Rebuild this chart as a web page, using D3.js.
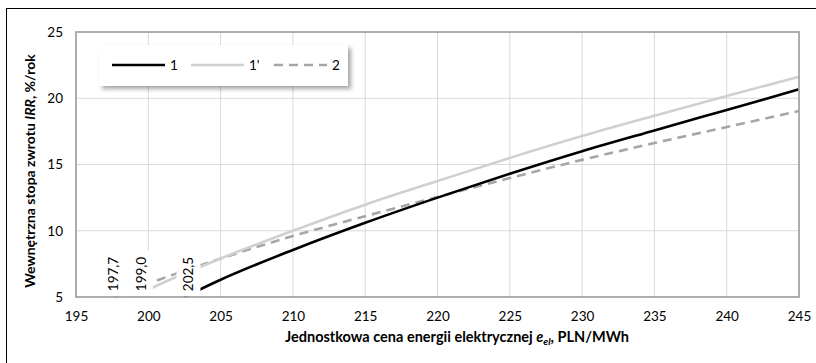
<!DOCTYPE html>
<html>
<head>
<meta charset="utf-8">
<script src="https://cdn.jsdelivr.net/npm/d3@7"></script>
<style>
  body { margin: 0; background: #fff; }
  svg { display: block; font-family: Lato, "Liberation Sans", sans-serif; }
</style>
</head>
<body>
<svg id="chart" width="816" height="363"></svg>
<script>
// series 1 (black), 1' (light grey), 2 (dashed)
const price1 = [202.5, 205, 210, 215, 220, 225, 230, 235, 240, 245];
const irr1 = [5.0, 6.3, 8.55, 10.6, 12.5, 14.3, 16.0, 17.57, 19.12, 20.67];
const price1p = [199.0, 200, 205, 210, 215, 220, 225, 230, 235, 240, 245];
const irr1p = [5.0, 5.55, 7.9, 10.0, 11.97, 13.75, 15.5, 17.15, 18.68, 20.17, 21.63];
const price2 = [197.7, 200, 205, 210, 215, 220, 225, 230, 235, 240, 245];
const irr2 = [5.0, 6.0, 7.9, 9.6, 11.1, 12.55, 13.98, 15.35, 16.62, 17.83, 19.04];

const startPrices = [197.7, 199.0, 202.5];
const startLabels = ["197,7", "199,0", "202,5"];

const xTicks = [195, 200, 205, 210, 215, 220, 225, 230, 235, 240, 245];
const yTicks = [5, 10, 15, 20, 25];
const legendNames = ["1", "1'", "2"];

const margin = { left: 76, top: 32, right: 17, bottom: 66 };
const width = 816, height = 363;

const svg = d3.select("#chart");

// outer frame (only left/top visible in the crop)
svg.append("rect")
    .attr("x", 6.5).attr("y", 8.5)
    .attr("width", 840).attr("height", 400)
    .attr("fill", "none").attr("stroke", "#000").attr("stroke-width", 1);

const x = d3.scaleLinear().domain([195, 245]).range([margin.left, width - margin.right]);
const y = d3.scaleLinear().domain([5, 25]).range([height - margin.bottom, margin.top]);

// grid
svg.append("g").selectAll("line").data(xTicks.slice(1, -1)).enter().append("line")
    .attr("x1", d => x(d)).attr("x2", d => x(d))
    .attr("y1", y(5)).attr("y2", y(25))
    .attr("stroke", "#d9d9d9").attr("stroke-width", 1);
svg.append("g").selectAll("line").data(yTicks.slice(1, -1)).enter().append("line")
    .attr("x1", x(195)).attr("x2", x(245))
    .attr("y1", d => y(d)).attr("y2", d => y(d))
    .attr("stroke", "#d9d9d9").attr("stroke-width", 1);

// series
const series = [
    { px: price1, py: irr1, color: "#000000", dash: null },
    { px: price1p, py: irr1p, color: "#d0d0d0", dash: null },
    { px: price2, py: irr2, color: "#a6a6a6", dash: "9,6" }
];
const line = d3.line()
    .x(d => x(d[0])).y(d => y(d[1]))
    .curve(d3.curveMonotoneX);

// draw grey ones first, black on top
[2, 1, 0].forEach(i => {
    const s = series[i];
    svg.append("path")
        .datum(s.px.map((v, j) => [v, s.py[j]]))
        .attr("d", line)
        .attr("fill", "none")
        .attr("stroke", s.color)
        .attr("stroke-width", 2.6)
        .attr("stroke-dasharray", s.dash);
});

// start value labels (white boxes)
const nudge = [-2, 7, 4];
const lab = svg.append("g").selectAll("g").data(startPrices).enter().append("g")
    .attr("transform", (d, i) => `translate(${x(d) + nudge[i]},${y(5) - 23})`);
lab.append("rect")
    .attr("x", -12).attr("y", -23).attr("width", 24).attr("height", 45)
    .attr("fill", "#fff");
lab.append("text")
    .attr("transform", "rotate(-90)")
    .attr("text-anchor", "middle")
    .attr("dy", "0.35em")
    .attr("font-size", 13.5)
    .attr("fill", "#000")
    .text((d, i) => startLabels[i]);

// plot border
svg.append("rect")
    .attr("x", x(195)).attr("y", y(25))
    .attr("width", x(245) - x(195)).attr("height", y(5) - y(25))
    .attr("fill", "none").attr("stroke", "#a6a6a6").attr("stroke-width", 1.8);

// axes
const xAxis = d3.axisBottom(x).tickValues(xTicks).tickSize(0).tickPadding(14);
svg.append("g")
    .attr("transform", `translate(0,${y(5)})`)
    .call(xAxis)
    .call(g => g.select(".domain").remove())
    .selectAll("text").attr("font-size", 13.5).attr("fill", "#000")
    .attr("font-family", "Lato, sans-serif");

const yAxis = d3.axisLeft(y).tickValues(yTicks).tickSize(0).tickPadding(13);
svg.append("g")
    .attr("transform", `translate(${x(195)},0)`)
    .call(yAxis)
    .call(g => g.select(".domain").remove())
    .selectAll("text").attr("font-size", 13.5).attr("fill", "#000")
    .attr("font-family", "Lato, sans-serif");

// axis titles
const xt = svg.append("text")
    .attr("x", 457).attr("y", 342)
    .attr("text-anchor", "middle")
    .attr("font-size", 14.5).attr("font-weight", "bold");
xt.append("tspan").text("Jednostkowa cena energii elektrycznej ");
xt.append("tspan").attr("font-style", "italic").text("e");
xt.append("tspan").attr("font-style", "italic").attr("font-size", 10).attr("dy", 3).text("el");
xt.append("tspan").attr("dy", -3).text(", PLN/MWh");

const yt = svg.append("text")
    .attr("transform", "translate(35,171) rotate(-90)")
    .attr("text-anchor", "middle")
    .attr("font-size", 14).attr("font-weight", "bold");
yt.append("tspan").text("Wewnętrzna stopa zwrotu ");
yt.append("tspan").attr("font-style", "italic").text("IRR");
yt.append("tspan").text(", %/rok");

// legend
const defs = svg.append("defs");
defs.append("filter").attr("id", "shadow")
    .attr("x", "-10%").attr("y", "-30%").attr("width", "130%").attr("height", "170%")
    .append("feDropShadow")
    .attr("dx", 3).attr("dy", 3).attr("stdDeviation", 2)
    .attr("flood-color", "#000").attr("flood-opacity", 0.35);

const legend = svg.append("g").attr("transform", "translate(99,45)");
legend.append("rect")
    .attr("width", 249).attr("height", 41)
    .attr("fill", "#fff").attr("filter", "url(#shadow)");

const itemX = [13, 92, 175];
const items = legend.selectAll("g.item").data(series).enter().append("g")
    .attr("class", "item")
    .attr("transform", (d, i) => `translate(${itemX[i]},20)`);
items.append("line")
    .attr("x1", 0).attr("x2", 53)
    .attr("stroke", d => d.color).attr("stroke-width", 2.6)
    .attr("stroke-dasharray", d => d.dash);
items.append("text")
    .attr("x", 58).attr("dy", "0.35em")
    .attr("font-size", 13.5).attr("fill", "#000")
    .text((d, i) => legendNames[i]);
</script>
</body>
</html>
